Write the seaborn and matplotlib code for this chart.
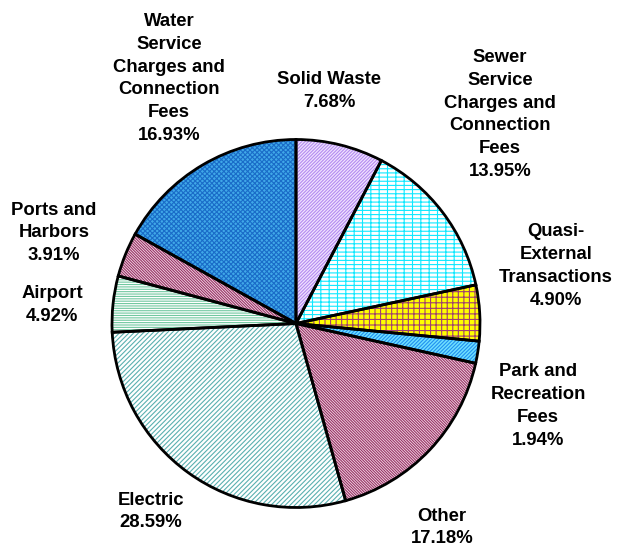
import matplotlib
matplotlib.use("Agg")
import matplotlib.pyplot as plt
import seaborn as sns

# ---- data ----
categories = ["Solid Waste",
              "Sewer\nService\nCharges and\nConnection\nFees",
              "Quasi-\nExternal\nTransactions",
              "Park and\nRecreation\nFees",
              "Other",
              "Electric",
              "Airport",
              "Ports and\nHarbors",
              "Water\nService\nCharges and\nConnection\nFees"]
shares = [7.68, 13.95, 4.90, 1.94, 17.18, 28.59, 4.92, 3.91, 16.93]

# ---- styles ----
face_colors = ["#F0E2FF", "#FFFFFF", "#FFFF00", "#70E0FF", "#F3DDE8",
               "#FFFFFF", "#FFFFFF", "#F3DDE8", "#40A8E8"]
hatch_colors = ["#B48CF0", "#10E8FF", "#A04070", "#2090F0", "#993366",
                "#5AB0B0", "#70C8A0", "#993366", "#1A6CC8"]
hatches = ["/" * 10, "-" * 4 + "|" * 2, "+" * 3, "/" * 9, "\\" * 12,
           "/" * 7, "-" * 7, "\\" * 12, "x" * 7]

# label anchor positions in pixels (x, y from top)
label_px = [(329, 91), (500, 114.5), (556, 266), (538, 406), (442, 527.5),
            (151, 511.5), (52, 305), (54, 233), (169, 78.5)]

W, H = 626, 550
CX, CY, R = 296, 323.5, 184.0

sns.set_theme(style="white")
plt.rcParams["font.family"] = ["Liberation Sans", "DejaVu Sans"]
plt.rcParams["hatch.linewidth"] = 0.8

fig = plt.figure(figsize=(W / 100, H / 100), dpi=100)
ax = fig.add_axes([0, 0, 1, 1])

wedges, _ = ax.pie(shares, startangle=90, counterclock=False, radius=1,
                   colors=face_colors,
                   wedgeprops=dict(linewidth=0))
for w, hc, h in zip(wedges, hatch_colors, hatches):
    w.set_hatch(h)
    w.set_edgecolor(hc)
    w.set_linewidth(0)

ax.pie(shares, startangle=90, counterclock=False, radius=1,
       wedgeprops=dict(fill=False, edgecolor="black", linewidth=2.0))

for cat, val, (px, py) in zip(categories, shares, label_px):
    x = (px - CX) / R
    y = (CY - py) / R
    ax.text(x, y, f"{cat}\n{val:.2f}%", ha="center", va="center",
            multialignment="center", fontsize=13.3, fontweight="bold",
            linespacing=1.45, color="black")

ax.set_xlim(-CX / R, (W - CX) / R)
ax.set_ylim(-(H - CY) / R, CY / R)
ax.set_aspect("auto")
ax.axis("off")

fig.savefig("out.png", dpi=100, facecolor="white")
